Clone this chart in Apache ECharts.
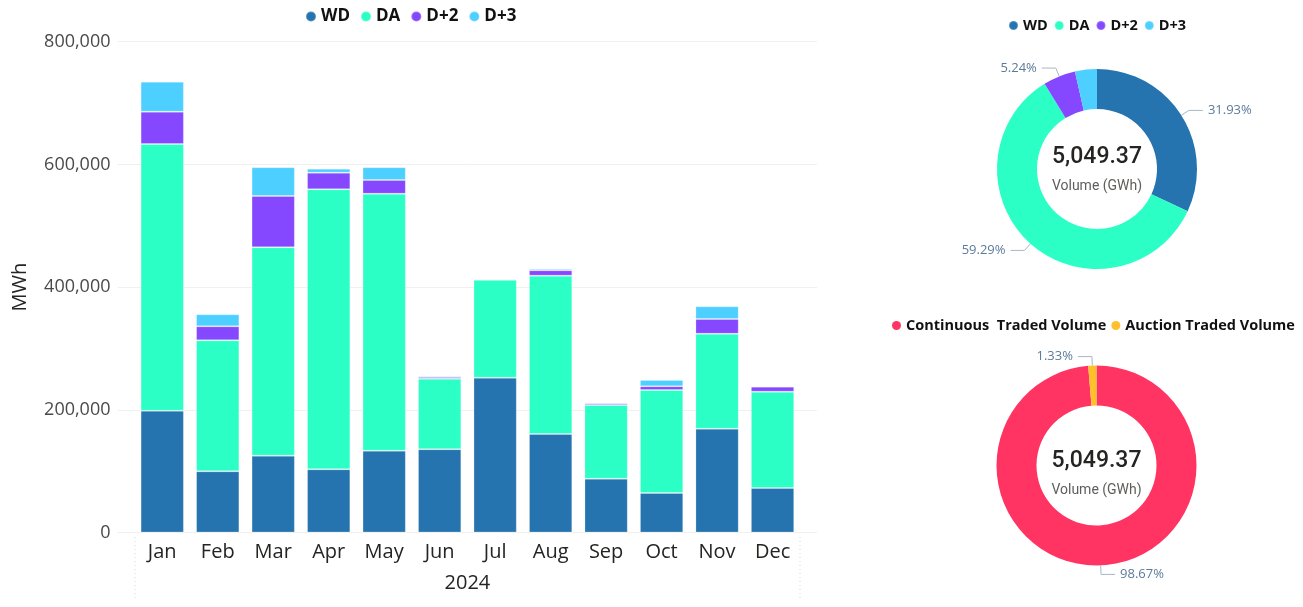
<!DOCTYPE html>
<html>
<head>
<meta charset="utf-8">
<title>Traded volume 2024</title>
<script src="https://cdn.jsdelivr.net/npm/echarts@6/dist/echarts.min.js"></script>
<style>
  html, body { margin: 0; padding: 0; background: #ffffff; }
  #chart { width: 1303px; height: 607px; }
</style>
</head>
<body>
<div id="chart"></div>
<script>
// Monthly traded volume by product (MWh)
const months = ['Jan', 'Feb', 'Mar', 'Apr', 'May', 'Jun', 'Jul', 'Aug', 'Sep', 'Oct', 'Nov', 'Dec'];
const wdValues  = [198500, 99800, 125200, 103000, 133300, 135800, 252300, 160600, 87700, 64400, 169200, 72500];
const daValues  = [434800, 213500, 339700, 456400, 418900, 114900, 159800, 258000, 120100, 167900, 154800, 157000];
const d2Values  = [52600, 22800, 83600, 27100, 22400, 2800, 0, 8800, 2800, 6000, 24000, 8200];
const d3Values  = [48900, 19600, 46800, 6500, 20700, 2100, 0, 2600, 500, 10300, 20700, 1600];
const yearLabel = '2024';
const yTicks = { min: 0, max: 800000, interval: 200000 };

// Yearly shares (%)
const productNames  = ['WD', 'DA', 'D+2', 'D+3'];
const productShares = [31.93, 59.29, 5.24, 3.54];
const tradeNames    = ['Continuous  Traded Volume', 'Auction Traded Volume'];
const tradeShares   = [98.67, 1.33];
const totalVolumeGWh = 5049.37;

const productColors = ['#2574AF', '#2BFFC6', '#8548FF', '#4DD0FF'];
const tradeColors   = ['#FF3462', '#FFC02C'];

const totalText = totalVolumeGWh.toLocaleString('en-US', { minimumFractionDigits: 2, maximumFractionDigits: 2 });

const chart = echarts.init(document.getElementById('chart'), null, { renderer: 'canvas' });

const barSeries = [wdValues, daValues, d2Values, d3Values].map((vals, i) => ({
  name: productNames[i],
  type: 'bar',
  stack: 'volume',
  xAxisIndex: 0,
  yAxisIndex: 0,
  barCategoryGap: '22%',
  itemStyle: { color: productColors[i], borderColor: 'rgba(255,255,255,0.22)', borderWidth: 1 },
  data: vals
}));

const pieLabel = {
  show: true,
  formatter: p => p.value.toFixed(2) + '%',
  color: '#5C7B9A',
  fontFamily: 'Open Sans',
  fontSize: 13
};
const pieLabelLine = { show: true, length: 9, length2: 14, lineStyle: { color: '#A8B6C6', width: 1 } };

const legendText = { fontFamily: 'Open Sans', fontWeight: 'bold', color: '#111111' };

chart.setOption({
  animation: false,
  textStyle: { fontFamily: 'Open Sans' },
  legend: [
    {
      data: productNames.map(n => ({ name: n, icon: 'circle' })),
      left: 300, top: 3,
      itemWidth: 10, itemHeight: 10, itemGap: 10,
      textStyle: Object.assign({ fontSize: 17 }, legendText)
    },
    {
      data: productNames.map(n => ({ name: n, icon: 'circle' })),
      left: 1003, top: 13,
      itemWidth: 9, itemHeight: 9, itemGap: 6,
      textStyle: Object.assign({ fontSize: 14.5 }, legendText)
    },
    {
      data: tradeNames.map(n => ({ name: n, icon: 'circle' })),
      left: 892, top: 318, width: 411, padding: 0,
      itemWidth: 9, itemHeight: 9, itemGap: 5,
      textStyle: Object.assign({ fontSize: 14.5 }, legendText)
    }
  ],
  grid: [
    { left: 134.5, right: 502.7, top: 41.7, bottom: 74.5, containLabel: false },
    // wider backdrop grid carrying the horizontal gridlines
    { left: 118, right: 486, top: 41.7, bottom: 74.5, containLabel: false }
  ],
  xAxis: [
    {
      type: 'category',
      gridIndex: 0,
      data: months,
      axisLine: { show: false },
      axisTick: { show: false },
      axisLabel: { margin: 10, fontSize: 20, color: '#252423', fontFamily: 'Open Sans' },
      name: yearLabel,
      nameLocation: 'middle',
      nameGap: 41,
      nameTextStyle: { fontSize: 20, color: '#252423', fontFamily: 'Open Sans' }
    },
    { type: 'value', gridIndex: 1, show: false }
  ],
  yAxis: [
    {
      type: 'value',
      gridIndex: 0,
      min: yTicks.min, max: yTicks.max, interval: yTicks.interval,
      axisLine: { show: false },
      axisTick: { show: false },
      splitLine: { show: false },
      axisLabel: {
        margin: 24, fontSize: 18, color: '#4A4A4A', fontFamily: 'Open Sans',
        formatter: v => v.toLocaleString('en-US')
      },
      name: 'MWh',
      nameLocation: 'middle',
      nameGap: 104,
      nameTextStyle: { fontSize: 20, color: '#252423', fontFamily: 'Open Sans' }
    },
    {
      type: 'value',
      gridIndex: 1,
      min: yTicks.min, max: yTicks.max, interval: yTicks.interval,
      axisLine: { show: false },
      axisTick: { show: false },
      axisLabel: { show: false },
      splitLine: { lineStyle: { color: '#F0F0F0', width: 1 } }
    }
  ],
  series: barSeries.concat([
    {
      name: 'Product share',
      type: 'pie',
      center: [1097, 169],
      radius: [60, 100],
      startAngle: 90,
      clockwise: true,
      avoidLabelOverlap: false,
      label: pieLabel,
      labelLine: pieLabelLine,
      emphasis: { disabled: true },
      data: productNames.map((n, i) => ({
        name: n,
        value: productShares[i],
        itemStyle: { color: productColors[i] },
        label: i === 3 ? { show: false } : undefined,
        labelLine: i === 3 ? { show: false } : undefined
      }))
    },
    {
      name: 'Trade share',
      type: 'pie',
      center: [1096.5, 465.5],
      radius: [60, 100],
      startAngle: 90,
      clockwise: true,
      avoidLabelOverlap: false,
      label: pieLabel,
      labelLine: pieLabelLine,
      emphasis: { disabled: true },
      data: tradeNames.map((n, i) => ({
        name: n,
        value: tradeShares[i],
        itemStyle: { color: tradeColors[i] }
      }))
    }
  ]),
  graphic: [
    // dotted separators of the month axis
    { type: 'line', shape: { x1: 135, y1: 537, x2: 135, y2: 600 }, style: { stroke: '#D6D6D6', lineWidth: 1, lineDash: [1, 3] } },
    { type: 'line', shape: { x1: 800, y1: 537, x2: 800, y2: 600 }, style: { stroke: '#D6D6D6', lineWidth: 1, lineDash: [1, 3] } },
    // donut centre captions
    { type: 'text', x: 1097, y: 157, style: { text: totalText, align: 'center', verticalAlign: 'middle', fontFamily: 'Roboto', fontWeight: 500, fontSize: 23, fill: '#252423' } },
    { type: 'text', x: 1097, y: 186, style: { text: 'Volume (GWh)', align: 'center', verticalAlign: 'middle', fontFamily: 'Roboto', fontSize: 14, fill: '#605E5C' } },
    { type: 'text', x: 1096.5, y: 461, style: { text: totalText, align: 'center', verticalAlign: 'middle', fontFamily: 'Roboto', fontWeight: 500, fontSize: 23, fill: '#252423' } },
    { type: 'text', x: 1096.5, y: 490, style: { text: 'Volume (GWh)', align: 'center', verticalAlign: 'middle', fontFamily: 'Roboto', fontSize: 14, fill: '#605E5C' } }
  ]
});
</script>
</body>
</html>
